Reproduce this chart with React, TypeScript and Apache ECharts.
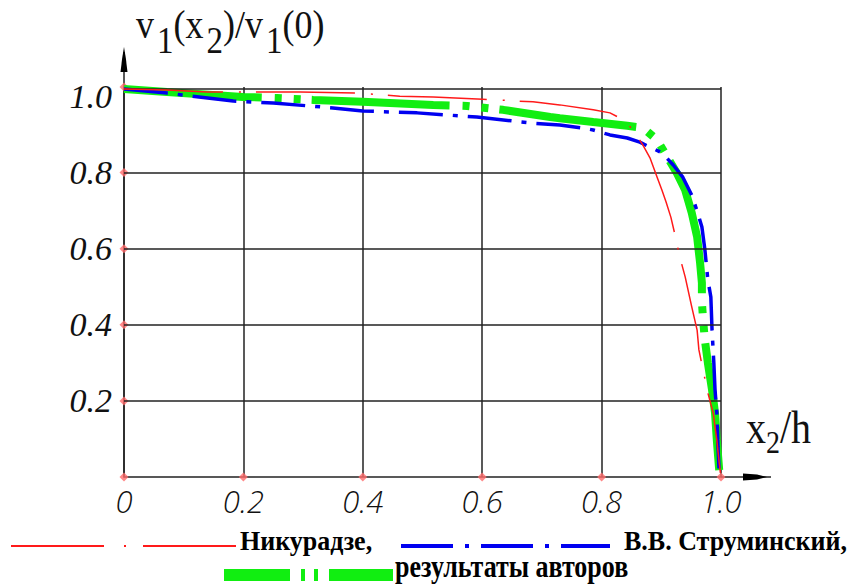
import React, { useEffect, useRef } from 'react';
import * as echarts from 'echarts';

// ---- data ----
const xTicks = [0, 0.2, 0.4, 0.6, 0.8, 1.0];
const xTickLabels = ['0', '0.2', '0.4', '0.6', '0.8', '1.0'];
const yTicks = [0.2, 0.4, 0.6, 0.8, 1.0];
const yTickLabels = ['0.2', '0.4', '0.6', '0.8', '1.0'];
const yMax = 1.025;
const yGridValues = [0.2, 0.4, 0.6, 0.8, 1.025];
const seriesNames = ['Никурадзе,', 'В.В. Струминский,', 'результаты авторов'];

const nikuradse: number[][] = [
  [0, 1.02], [0.072, 1.017], [0.139, 1.012], [0.194, 1.012], [0.295, 1.012], [0.39, 1.009],
  [0.462, 1.001], [0.518, 0.999], [0.601, 0.993], [0.685, 0.986], [0.73, 0.978], [0.786, 0.965],
  [0.814, 0.957], [0.836, 0.939], [0.853, 0.912], [0.869, 0.873], [0.881, 0.839], [0.893, 0.788],
  [0.901, 0.754], [0.908, 0.723], [0.916, 0.683], [0.923, 0.636], [0.931, 0.578], [0.94, 0.526],
  [0.951, 0.447], [0.96, 0.386], [0.963, 0.334], [0.97, 0.281], [0.978, 0.221], [0.987, 0.168],
  [0.993, 0.097], [0.997, 0.037], [0.999, 0.011],
];

const struminsky: number[][] = [
  [0, 1.02], [0.072, 1.009], [0.183, 0.988], [0.25, 0.983], [0.35, 0.97], [0.4, 0.962],
  [0.491, 0.957], [0.591, 0.946], [0.685, 0.93], [0.73, 0.925], [0.769, 0.917], [0.786, 0.912],
  [0.814, 0.899], [0.843, 0.891], [0.864, 0.88], [0.881, 0.867], [0.901, 0.852], [0.92, 0.82],
  [0.936, 0.788], [0.951, 0.741], [0.961, 0.694], [0.968, 0.657], [0.973, 0.597], [0.978, 0.518],
  [0.983, 0.473], [0.985, 0.386], [0.988, 0.3], [0.99, 0.229], [0.993, 0.168], [0.995, 0.079],
  [0.997, 0.011],
];

const authors: number[][] = [
  [0, 1.02], [0.072, 1.012], [0.199, 0.999], [0.256, 0.996], [0.317, 0.991], [0.4, 0.986],
  [0.518, 0.978], [0.575, 0.975], [0.635, 0.965], [0.714, 0.946], [0.73, 0.943], [0.786, 0.933],
  [0.843, 0.923], [0.869, 0.918], [0.893, 0.886], [0.91, 0.841], [0.926, 0.799], [0.94, 0.754],
  [0.951, 0.694], [0.96, 0.631], [0.965, 0.562], [0.968, 0.51], [0.968, 0.46], [0.97, 0.413],
  [0.973, 0.36], [0.978, 0.3], [0.985, 0.229], [0.99, 0.168], [0.993, 0.097], [0.997, 0.018],
];

const RED = '#ff1a1a';
const BLUE = '#0000f0';
const GREEN = '#11ee11';
const INK = '#222';
const SERIF = "'Liberation Serif', 'Times New Roman', 'DejaVu Serif', serif";

const redDash = [99, 16, 2, 15];
const blueDash = [44, 10, 5, 10];
const greenDash = [138, 13, 7, 12, 7, 11];

function labelFor(v: number, ticks: number[], labels: string[]) {
  for (let i = 0; i < ticks.length; i++) {
    if (Math.abs(v - ticks[i]) < 1e-6) return labels[i];
  }
  return '';
}

export default function App() {
  const ref = useRef<HTMLDivElement>(null);

  useEffect(() => {
    if (!ref.current) return;
    const chart = echarts.init(ref.current, undefined, { renderer: 'svg' });

    const markers: number[][] = [
      ...xTicks.map((x) => [x, 0]),
      ...yTicks.filter((y) => y < 1).map((y) => [0, y]),
      [0, yMax],
    ];

    const legendText = (text: string, x: number, y: number, scaleY: number) => ({
      type: 'text',
      x,
      y,
      scaleY,
      style: {
        text,
        fontFamily: SERIF,
        fontWeight: 'bold',
        fontSize: 26,
        fill: '#000',
        verticalAlign: 'middle',
      },
    });

    const option: any = {
      animation: false,
      backgroundColor: '#fff',
      grid: { left: 124, right: 134, top: 87, bottom: 108, containLabel: false },
      xAxis: {
        type: 'value',
        min: 0,
        max: 1,
        interval: 0.2,
        axisLine: { show: true, lineStyle: { color: INK, width: 1.5 } },
        axisTick: { show: false },
        splitLine: { show: true, lineStyle: { color: INK, width: 1.5 } },
        axisLabel: {
          margin: 8,
          formatter: (v: number) => labelFor(v, xTicks, xTickLabels),
          fontFamily: 'Open Sans',
          fontStyle: 'italic',
          fontWeight: 300,
          fontSize: 31,
          color: '#111',
        },
      },
      yAxis: {
        type: 'value',
        min: 0,
        max: yMax,
        interval: 0.2,
        axisLine: { show: true, lineStyle: { color: INK, width: 1.5 } },
        axisTick: { show: false },
        splitLine: { show: false },
        axisLabel: {
          margin: 12,
          formatter: (v: number) => labelFor(v, yTicks, yTickLabels),
          fontFamily: SERIF,
          fontStyle: 'italic',
          fontSize: 34,
          color: '#111',
        },
      },
      series: [
        {
          type: 'line',
          data: [],
          z: 1,
          silent: true,
          markLine: {
            silent: true,
            symbol: 'none',
            label: { show: false },
            lineStyle: { color: INK, width: 1.5, type: 'solid' },
            data: yGridValues.map((v) => ({ yAxis: v })),
          },
        },
        {
          type: 'line',
          name: seriesNames[2],
          data: authors,
          showSymbol: false,
          symbol: 'none',
          z: 3,
          lineStyle: { color: GREEN, width: 8, type: greenDash, cap: 'butt' },
        },
        {
          type: 'line',
          name: seriesNames[1],
          data: struminsky,
          showSymbol: false,
          symbol: 'none',
          z: 4,
          lineStyle: { color: BLUE, width: 3.5, type: blueDash, cap: 'butt' },
        },
        {
          type: 'line',
          name: seriesNames[0],
          data: nikuradse,
          showSymbol: false,
          symbol: 'none',
          z: 5,
          lineStyle: { color: RED, width: 1.5, type: redDash, cap: 'butt' },
        },
        {
          type: 'scatter',
          data: markers,
          symbol: 'diamond',
          symbolSize: 9,
          clip: false,
          z: 2,
          itemStyle: { color: '#ff6b6b' },
          silent: true,
        },
      ],
      graphic: [
        // axis extensions & arrows
        { type: 'line', shape: { x1: 124, y1: 87, x2: 124, y2: 52 }, style: { stroke: INK, lineWidth: 1.5 } },
        {
          type: 'polygon',
          shape: { points: [[124, 47], [125.8, 58], [127.5, 72], [120.5, 72], [122.2, 58]] },
          style: { fill: '#000' },
        },
        { type: 'line', shape: { x1: 721, y1: 477, x2: 771, y2: 477 }, style: { stroke: INK, lineWidth: 1.5 } },
        {
          type: 'polygon',
          shape: { points: [[743, 473.5], [757, 474.5], [767, 477], [757, 479.5], [743, 480.5]] },
          style: { fill: '#000' },
        },
        // y title
        {
          type: 'text',
          x: 136,
          y: -12,
          scaleY: 1.12,
          style: {
            text: '{m|v}{s|1}{m|(x}{s|2}{m|)/v}{s|1}{m|(0)}',
            verticalAlign: 'top',
            fill: '#111',
            rich: {
              m: { fontFamily: SERIF, fontSize: 36, lineHeight: 64, fill: '#111' },
              s: { fontFamily: SERIF, fontSize: 33, lineHeight: 33, verticalAlign: 'bottom', padding: [0, 0, 0, 3], fill: '#111' },
            },
          },
        },
        // x title
        {
          type: 'text',
          x: 746,
          y: 396,
          scaleY: 1.15,
          style: {
            text: '{m|x}{s|2}{m|/h}',
            verticalAlign: 'top',
            fill: '#111',
            rich: {
              m: { fontFamily: SERIF, fontSize: 40, lineHeight: 54, fill: '#111' },
              s: { fontFamily: SERIF, fontSize: 28, lineHeight: 28, verticalAlign: 'bottom', fill: '#111' },
            },
          },
        },
        // legend
        { type: 'line', shape: { x1: 11, y1: 546, x2: 236, y2: 546 }, style: { stroke: RED, lineWidth: 2, lineDash: [93, 20, 2, 17] } },
        legendText(seriesNames[0], 240, 541, 1.05),
        { type: 'line', shape: { x1: 401, y1: 546, x2: 610, y2: 546 }, style: { stroke: BLUE, lineWidth: 4, lineDash: [52, 12, 4, 12] } },
        legendText(seriesNames[1], 624, 541, 1.05),
        { type: 'line', shape: { x1: 224, y1: 575, x2: 393, y2: 575 }, style: { stroke: GREEN, lineWidth: 12, lineDash: [66, 11, 4, 9, 4, 11] } },
        legendText(seriesNames[2], 395, 566, 1.25),
      ],
    };

    chart.setOption(option);
    return () => chart.dispose();
  }, []);

  return (
    <div
      ref={ref}
      style={{ position: 'fixed', left: 0, top: 0, width: 855, height: 585, background: '#fff' }}
    />
  );
}
